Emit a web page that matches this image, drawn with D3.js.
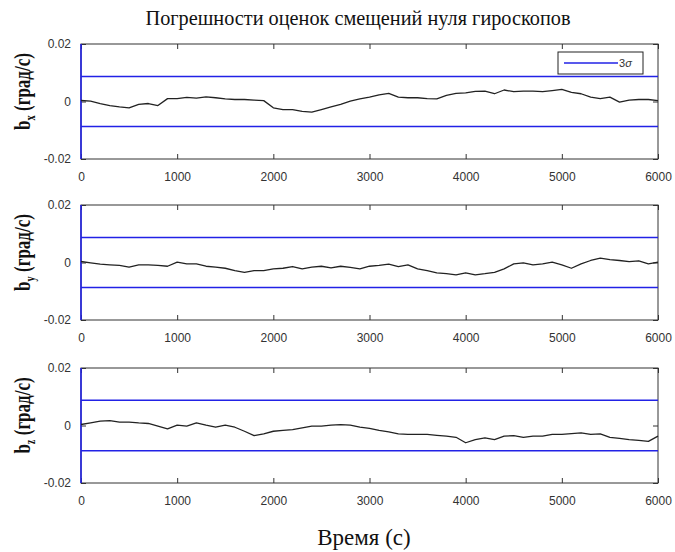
<!DOCTYPE html>
<html>
<head>
<meta charset="utf-8">
<script src="https://cdn.jsdelivr.net/npm/d3@7"></script>
<style>
  html, body { margin: 0; padding: 0; background: #fff; }
  .tick text { font-family: "Liberation Sans", Arial, sans-serif; font-size: 12px; fill: #333; }
  .tick line { stroke: #333; }
</style>
</head>
<body>
<div id="vis"></div>
<script>
////////////////////////////////////////
//////////////// Data //////////////////
////////////////////////////////////////

// time stamps, s
const times = d3.range(0, 6001, 100);

// bias estimation errors, deg/s
const bx = [
  0.00035, 0.0001, -0.0007, -0.0014, -0.0019, -0.0022, -0.001, -0.0007, -0.0014, 0.001,
  0.001, 0.0014, 0.0012, 0.0016, 0.0013, 0.0009, 0.0007, 0.0007, 0.0005, 0.0003,
  -0.0022, -0.0028, -0.0028, -0.0034, -0.0037, -0.0028, -0.0019, -0.001, 0.0001, 0.0009,
  0.0015, 0.0023, 0.0028, 0.0015, 0.0013, 0.0013, 0.001, 0.0009, 0.0021, 0.0028,
  0.003, 0.0035, 0.0036, 0.0027, 0.004, 0.0034, 0.0036, 0.0036, 0.0034, 0.0038,
  0.0042, 0.0032, 0.0027, 0.0015, 0.001, 0.0015, -0.0002, 0.0005, 0.0007, 0.0007,
  0.0003
];

const by = [
  0.00035, -0.0001, -0.0006, -0.0008, -0.001, -0.0016, -0.0008, -0.0008, -0.001, -0.0013,
  0.0001, -0.0005, -0.0005, -0.0013, -0.0016, -0.002, -0.0028, -0.0034, -0.0028, -0.0028,
  -0.0022, -0.002, -0.0014, -0.0022, -0.0016, -0.0013, -0.0019, -0.0013, -0.0017, -0.0022,
  -0.0013, -0.001, -0.0006, -0.0014, -0.0008, -0.0022, -0.0028, -0.0036, -0.0039, -0.0043,
  -0.0036, -0.0043, -0.0039, -0.0034, -0.0022, -0.0005, -0.0001, -0.0008, -0.0005, 0.0001,
  -0.0008, -0.002, -0.0005, 0.0007, 0.0015, 0.001, 0.0007, 0.0003, 0.0006, -0.0005,
  0.0001
];

const bz = [
  0.00035, 0.0009, 0.0015, 0.0017, 0.0012, 0.0012, 0.0009, 0.0007, -0.0002, -0.0012,
  0.0001, -0.0002, 0.0009, 0.0001, -0.0006, 0.0001, -0.0006, -0.002, -0.0035, -0.0029,
  -0.002, -0.0017, -0.0014, -0.0008, -0.0002, -0.0002, 0.0001, 0.0003, 0.0001, -0.0006,
  -0.001, -0.0017, -0.0022, -0.0029, -0.0031, -0.0031, -0.0031, -0.0034, -0.0037, -0.0041,
  -0.006, -0.0049, -0.0043, -0.0049, -0.0037, -0.0035, -0.0041, -0.0037, -0.0037, -0.0031,
  -0.0031, -0.0028, -0.0026, -0.0031, -0.0029, -0.0041, -0.0045, -0.0049, -0.0052, -0.0055,
  -0.0037
];

// 3 sigma bounds, deg/s
const sigma3 = [0.0087, 0.0087, 0.0088];

const axisNames = ["x", "y", "z"];
const series = [bx, by, bz];

const xTicks = [0, 1000, 2000, 3000, 4000, 5000, 6000];
const yTicks = [-0.02, 0, 0.02];

const titleText = "Погрешности оценок смещений нуля гироскопов";
const xLabelText = "Время (с)";
const legendText = "3";

////////////////////////////////////////
/////////////// Options ////////////////
////////////////////////////////////////

const options = {
  width: 675,
  height: 552,
  left: 81,
  right: 658,
  panelTops: [44, 205, 368],
  panelHeight: 115,
  blue: "#2222e6",
  trace: "#222",
  frame: "#333",
  serif: "'Liberation Serif', 'Times New Roman', serif",
};

////////////////////////////////////////
////////////// SVG Setup ///////////////
////////////////////////////////////////

const svg = d3
  .select("#vis")
  .append("svg")
  .attr("width", options.width)
  .attr("height", options.height);

const x = d3
  .scaleLinear()
  .domain([0, 6000])
  .range([options.left, options.right]);

const fmtY = (d) => (d === 0 ? "0" : String(d));

////////////////////////////////////////
////////////// Panels //////////////////
////////////////////////////////////////

series.forEach((values, i) => {
  const top = options.panelTops[i];
  const bottom = top + options.panelHeight;

  const y = d3.scaleLinear().domain([-0.02, 0.02]).range([bottom, top]);

  const g = svg.append("g");

  // x ticks (inward) + labels
  const xAxisB = g
    .append("g")
    .attr("transform", `translate(0,${bottom})`)
    .call(d3.axisBottom(x).tickValues(xTicks).tickSize(-5).tickPadding(13).tickFormat(d3.format("d")));
  const xAxisT = g
    .append("g")
    .attr("transform", `translate(0,${top})`)
    .call(d3.axisTop(x).tickValues(xTicks).tickSize(-5).tickFormat(""));

  // y ticks + labels
  const yAxisL = g
    .append("g")
    .attr("transform", `translate(${options.left},0)`)
    .call(d3.axisLeft(y).tickValues(yTicks).tickSize(-5).tickPadding(10).tickFormat(fmtY));
  const yAxisR = g
    .append("g")
    .attr("transform", `translate(${options.right},0)`)
    .call(d3.axisRight(y).tickValues(yTicks).tickSize(-5).tickFormat(""));

  [xAxisB, xAxisT, yAxisL, yAxisR].forEach((a) => a.select(".domain").remove());

  // frame
  g.append("rect")
    .attr("x", options.left)
    .attr("y", top)
    .attr("width", options.right - options.left)
    .attr("height", bottom - top)
    .attr("fill", "none")
    .attr("stroke", options.frame)
    .attr("stroke-width", 1);

  // 3 sigma bounds
  g.selectAll(".sigma")
    .data([sigma3[i], -sigma3[i]])
    .join("line")
    .attr("x1", x(0))
    .attr("x2", x(6000))
    .attr("y1", (d) => y(d))
    .attr("y2", (d) => y(d))
    .attr("stroke", options.blue)
    .attr("stroke-width", 1.4);

  // left spine in blue
  g.append("line")
    .attr("x1", options.left)
    .attr("x2", options.left)
    .attr("y1", top)
    .attr("y2", bottom)
    .attr("stroke", options.blue)
    .attr("stroke-width", 1.6);

  // error trace
  const line = d3
    .line()
    .x((d, j) => x(times[j]))
    .y((d) => y(d));

  g.append("path")
    .datum(values)
    .attr("d", line)
    .attr("fill", "none")
    .attr("stroke", options.trace)
    .attr("stroke-width", 1.3)
    .attr("stroke-linejoin", "round");

  // y label (squeezed along the text, like the source figure)
  const lbl = g
    .append("text")
    .attr("transform", `translate(30,${(top + bottom) / 2 - 10}) rotate(-90) scale(0.74,1)`)
    .attr("text-anchor", "middle")
    .attr("font-family", options.serif)
    .attr("font-weight", "bold")
    .attr("font-size", 23)
    .attr("fill", "#111");
  lbl.append("tspan").text("b");
  lbl.append("tspan").attr("font-size", 14).attr("dy", 5).text(axisNames[i]);
  lbl.append("tspan").attr("dy", -5).text(" (град/с)");
});

////////////////////////////////////////
////////////// Legend //////////////////
////////////////////////////////////////

const legend = svg.append("g").attr("transform", "translate(558,52)");
legend
  .append("rect")
  .attr("width", 85)
  .attr("height", 22)
  .attr("fill", "#fff")
  .attr("stroke", "#222")
  .attr("stroke-width", 1);
legend
  .append("line")
  .attr("x1", 6)
  .attr("x2", 60)
  .attr("y1", 11)
  .attr("y2", 11)
  .attr("stroke", options.blue)
  .attr("stroke-width", 1.4);
const lt = legend
  .append("text")
  .attr("x", 61)
  .attr("y", 15)
  .attr("font-family", "'Liberation Sans', Arial, sans-serif")
  .attr("font-size", 11)
  .attr("fill", "#333")
  .text(legendText);
lt.append("tspan").attr("font-style", "italic").text("σ");

////////////////////////////////////////
////////////// Titles //////////////////
////////////////////////////////////////

svg
  .append("text")
  .attr("x", 358)
  .attr("y", 25)
  .attr("text-anchor", "middle")
  .attr("font-family", options.serif)
  .attr("font-size", 22)
  .attr("textLength", 425)
  .attr("lengthAdjust", "spacingAndGlyphs")
  .attr("fill", "#111")
  .text(titleText);

svg
  .append("text")
  .attr("x", 364)
  .attr("y", 545)
  .attr("text-anchor", "middle")
  .attr("font-family", options.serif)
  .attr("font-size", 23)
  .attr("fill", "#111")
  .text(xLabelText);
</script>
</body>
</html>
